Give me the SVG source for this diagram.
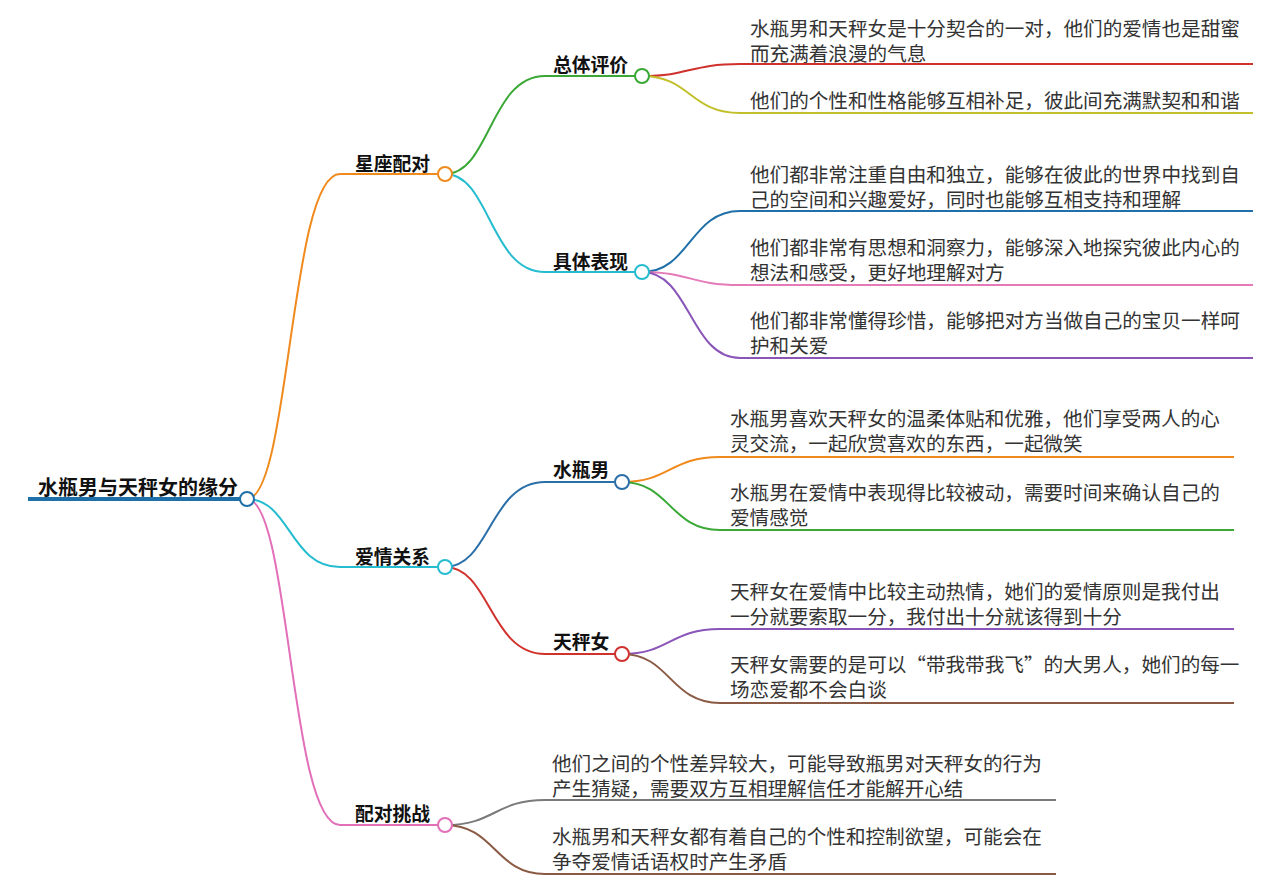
<svg xmlns="http://www.w3.org/2000/svg" width="1275" height="884" viewBox="0 0 1275 884">
<style>
.c{fill:none;stroke-width:2}
.t{font-family:"Noto Sans CJK SC","Noto Sans",sans-serif;font-size:19.6px;fill:#333}
.b{font-family:"Noto Sans CJK SC","Noto Sans",sans-serif;font-size:18.8px;font-weight:bold;fill:#111}
.n{fill:#fff;stroke-width:2}
</style>
<rect width="1275" height="884" fill="#fff"/>
<g id="connectors">
<path class="c" stroke="#f08a1d" d="M247,499 C290,499 290,174 340,174 H445"/>
<path class="c" stroke="#26bcd0" d="M247,499 C290,499 290,567 340,567 H445"/>
<path class="c" stroke="#e26fb8" d="M247,499 C290,499 290,825 340,825 H445"/>
<path class="c" stroke="#3aa836" d="M445,174 C490,174 490,76 545,76 H642"/>
<path class="c" stroke="#26bcd0" d="M445,174 C490,174 490,272 545,272 H642"/>
<path class="c" stroke="#2a6fa8" d="M445,567 C490,567 490,482 545,482 H622"/>
<path class="c" stroke="#d0312d" d="M445,567 C490,567 490,654 545,654 H622"/>
<path class="c" stroke="#d0312d" d="M642,76 C690,76 690,64 740,64 H1253"/>
<path class="c" stroke="#c2c02a" d="M642,76 C690,76 690,113 740,113 H1253"/>
<path class="c" stroke="#1f6fa8" d="M642,272 C690,272 690,211 740,211 H1253"/>
<path class="c" stroke="#e57ab9" d="M642,272 C690,272 690,285 740,285 H1253"/>
<path class="c" stroke="#8a55b8" d="M642,272 C690,272 690,358 740,358 H1253"/>
<path class="c" stroke="#f08a1d" d="M622,482 C670,482 670,457 720,457 H1234"/>
<path class="c" stroke="#3aa836" d="M622,482 C670,482 670,530 720,530 H1234"/>
<path class="c" stroke="#8a55b8" d="M622,654 C670,654 670,629 720,629 H1234"/>
<path class="c" stroke="#8a5a44" d="M622,654 C670,654 670,703 720,703 H1234"/>
<path class="c" stroke="#7a7a7a" d="M445,825 C495,825 495,800 545,800 H1056"/>
<path class="c" stroke="#8a5a44" d="M445,825 C495,825 495,874 545,874 H1056"/>
<path fill="none" stroke="#1f6fa8" stroke-width="4" d="M28,499 H247"/>
</g>
<g id="root"><text class="b" x="38" y="495" style="font-size:20px">水瓶男与天秤女的缘分</text><circle class="n" cx="247" cy="499" r="7" stroke="#1f6fa8"/></g>
<g id="n1"><text class="b" x="355" y="171">星座配对</text><circle class="n" cx="445" cy="174" r="7" stroke="#f08a1d"/></g>
<g id="n2"><text class="b" x="355" y="564">爱情关系</text><circle class="n" cx="445" cy="567" r="7" stroke="#26bcd0"/></g>
<g id="n3"><text class="b" x="355" y="821">配对挑战</text><circle class="n" cx="445" cy="825" r="7" stroke="#e26fb8"/></g>
<g id="n11"><text class="b" x="553" y="72">总体评价</text><circle class="n" cx="642" cy="76" r="7" stroke="#3aa836"/></g>
<g id="n12"><text class="b" x="553" y="269">具体表现</text><circle class="n" cx="642" cy="272" r="7" stroke="#26bcd0"/></g>
<g id="n21"><text class="b" x="553" y="477">水瓶男</text><circle class="n" cx="622" cy="482" r="7" stroke="#2a6fa8"/></g>
<g id="n22"><text class="b" x="553" y="649">天秤女</text><circle class="n" cx="622" cy="654" r="7" stroke="#d0312d"/></g>
<g id="leaves">
<text class="t" x="750" y="36">水瓶男和天秤女是十分契合的一对，他们的爱情也是甜蜜</text>
<text class="t" x="750" y="61">而充满着浪漫的气息</text>
<text class="t" x="750" y="108">他们的个性和性格能够互相补足，彼此间充满默契和和谐</text>
<text class="t" x="750" y="182">他们都非常注重自由和独立，能够在彼此的世界中找到自</text>
<text class="t" x="750" y="207">己的空间和兴趣爱好，同时也能够互相支持和理解</text>
<text class="t" x="750" y="255">他们都非常有思想和洞察力，能够深入地探究彼此内心的</text>
<text class="t" x="750" y="280">想法和感受，更好地理解对方</text>
<text class="t" x="750" y="328">他们都非常懂得珍惜，能够把对方当做自己的宝贝一样呵</text>
<text class="t" x="750" y="353">护和关爱</text>
<text class="t" x="730" y="426">水瓶男喜欢天秤女的温柔体贴和优雅，他们享受两人的心</text>
<text class="t" x="730" y="451">灵交流，一起欣赏喜欢的东西，一起微笑</text>
<text class="t" x="730" y="500">水瓶男在爱情中表现得比较被动，需要时间来确认自己的</text>
<text class="t" x="730" y="525">爱情感觉</text>
<text class="t" x="730" y="599">天秤女在爱情中比较主动热情，她们的爱情原则是我付出</text>
<text class="t" x="730" y="624">一分就要索取一分，我付出十分就该得到十分</text>
<text class="t" x="730" y="672">天秤女需要的是可以“带我带我飞”的大男人，她们的每一</text>
<text class="t" x="730" y="697">场恋爱都不会白谈</text>
<text class="t" x="552" y="771">他们之间的个性差异较大，可能导致瓶男对天秤女的行为</text>
<text class="t" x="552" y="796">产生猜疑，需要双方互相理解信任才能解开心结</text>
<text class="t" x="552" y="844">水瓶男和天秤女都有着自己的个性和控制欲望，可能会在</text>
<text class="t" x="552" y="869">争夺爱情话语权时产生矛盾</text>
</g>
</svg>
